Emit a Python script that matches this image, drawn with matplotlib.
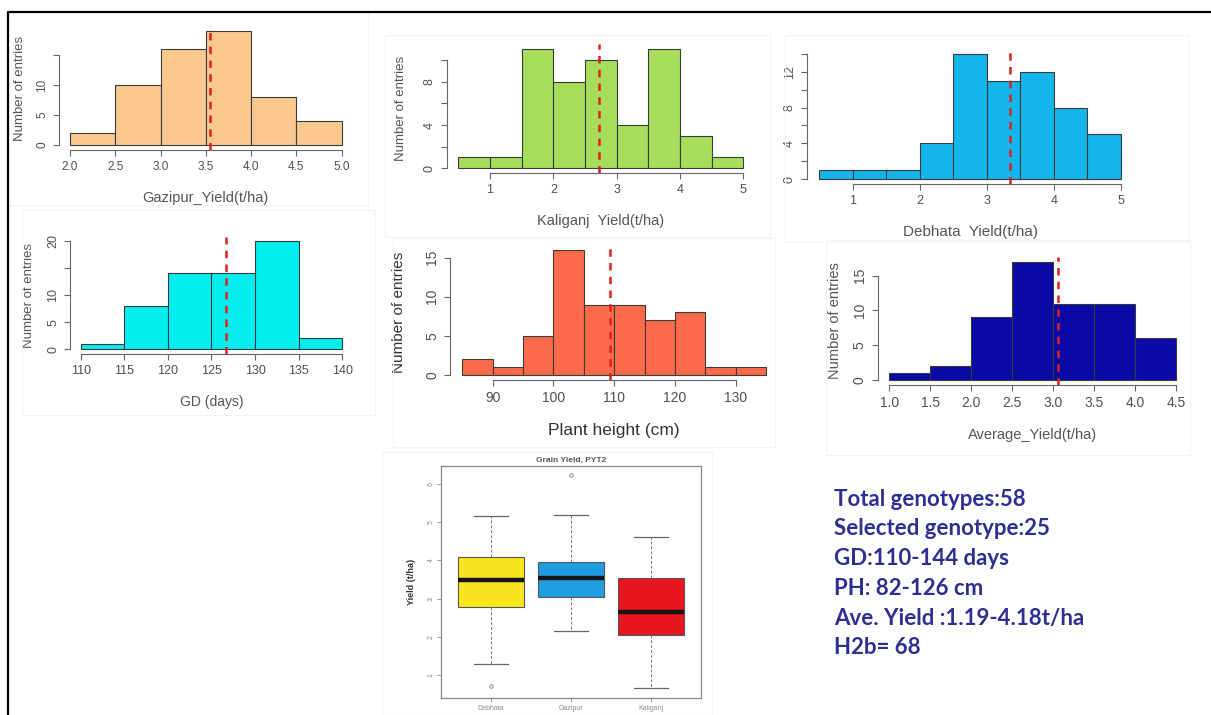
import numpy as np
import matplotlib
matplotlib.use('Agg')
import matplotlib.pyplot as plt
from matplotlib.lines import Line2D
from matplotlib.patches import Rectangle

W, H = 1211, 715

# bin edges, counts and mean for each trait
gazipur_edges = [2.0, 2.5, 3.0, 3.5, 4.0, 4.5, 5.0]
gazipur_counts = [2, 10, 16, 19, 8, 4]
gazipur_mean = 3.55

kaliganj_edges = [0.5, 1.0, 1.5, 2.0, 2.5, 3.0, 3.5, 4.0, 4.5, 5.0]
kaliganj_counts = [1, 1, 11, 8, 10, 4, 11, 3, 1]
kaliganj_mean = 2.72

debhata_edges = [0.5, 1.0, 1.5, 2.0, 2.5, 3.0, 3.5, 4.0, 4.5, 5.0]
debhata_counts = [1, 1, 1, 4, 14, 11, 12, 8, 5]
debhata_mean = 3.35

gd_edges = [110, 115, 120, 125, 130, 135, 140]
gd_counts = [1, 8, 14, 14, 20, 2]
gd_mean = 126.7

ph_edges = [85, 90, 95, 100, 105, 110, 115, 120, 125, 130, 135]
ph_counts = [2, 1, 5, 16, 9, 9, 7, 8, 1, 1]
ph_mean = 109.3

avg_edges = [1.0, 1.5, 2.0, 2.5, 3.0, 3.5, 4.0, 4.5]
avg_counts = [1, 2, 9, 17, 11, 11, 6]
avg_mean = 3.06

# grain yield by location (box statistics)
box_sites = ['Debhata', 'Gazipur', 'Kaliganj']
box_q1 = [2.77, 3.05, 2.05]
box_med = [3.50, 3.55, 2.64]
box_q3 = [4.08, 3.97, 3.55]
box_lo = [1.28, 2.15, 0.65]
box_hi = [5.16, 5.18, 4.62]
box_out = [[0.71], [6.24], []]
box_colors = ['#F7E51E', '#1E9EE0', '#E8161E']

summary_lines = ['Total genotypes:58', 'Selected genotype:25', 'GD:110-144 days',
                 'PH: 82-126 cm', 'Ave. Yield :1.19-4.18t/ha', 'H2b= 68']

plt.rcParams['font.family'] = ['Liberation Sans', 'DejaVu Sans']

fig = plt.figure(figsize=(W / 100, H / 100), dpi=100)
fig.patch.set_facecolor('white')


def px_axes(xa, xb, ya, yb, xlim, ylim):
    # xa/xb/ya/yb are (value, pixel) pairs used to calibrate the axes box
    sx = (xb[1] - xa[1]) / (xb[0] - xa[0])
    left = xa[1] + (xlim[0] - xa[0]) * sx
    right = xa[1] + (xlim[1] - xa[0]) * sx
    sy = (ya[1] - yb[1]) / (yb[0] - ya[0])
    bottom = ya[1] - (ylim[0] - ya[0]) * sy
    top = ya[1] - (ylim[1] - ya[0]) * sy
    ax = fig.add_axes([left / W, 1 - bottom / H, (right - left) / W, (bottom - top) / H])
    ax.set_xlim(xlim)
    ax.set_ylim(ylim)
    ax.patch.set_alpha(0)
    return ax


def r_hist(ax, edges, counts, mean, color, xticks, xticklabels, yticks, ylabels,
           xlabel, tfs=8.5, xfs=11, yfs=10, xpad=13, ypad=9, lcol='#555555'):
    edges = np.array(edges, dtype=float)
    ax.bar(edges[:-1], counts, width=np.diff(edges), align='edge', color=color,
           edgecolor='#3a3a3a', linewidth=0.8)
    ax.axvline(mean, color='#E0201C', linestyle=(0, (3, 2.5)), linewidth=1.8)
    for s in ['top', 'right']:
        ax.spines[s].set_visible(False)
    for s in ['left', 'bottom']:
        ax.spines[s].set_color('#666666')
        ax.spines[s].set_linewidth(0.8)
    ax.spines['left'].set_bounds(yticks[0], yticks[-1])
    ax.spines['bottom'].set_bounds(xticks[0], xticks[-1])
    ax.set_xticks(xticks)
    ax.set_xticklabels(xticklabels)
    ax.set_yticks(yticks)
    ax.set_yticklabels(ylabels)
    ax.tick_params(length=4.5, width=0.8, color='#666666', labelcolor='#505050',
                   labelsize=tfs, pad=3.5)
    ax.tick_params(axis='y', labelrotation=90)
    for lab in ax.get_yticklabels():
        lab.set_va('center')
    ax.set_xlabel(xlabel, fontsize=xfs, color=lcol, labelpad=xpad)
    ax.set_ylabel('Number of entries', fontsize=yfs, color=lcol, labelpad=ypad)


# faint frames of the individual panels
for x0, y0, x1, y1 in [(8, 12, 368, 205), (385, 35, 770, 237), (785, 35, 1188, 242),
                       (22, 210, 375, 415), (393, 238, 775, 447), (826, 240, 1190, 455),
                       (382, 452, 712, 715)]:
    fig.patches.append(Rectangle((x0 / W, 1 - y1 / H), (x1 - x0) / W, (y1 - y0) / H,
                                 transform=fig.transFigure, fill=False,
                                 edgecolor='#F3F3F3', linewidth=0.8))

# Gazipur yield
ax1 = px_axes((2.0, 70), (5.0, 341.7), (0, 145), (10, 85), (1.88, 5.12), (-0.76, 19.76))
r_hist(ax1, gazipur_edges, gazipur_counts, gazipur_mean, '#FBC88F',
       [2.0, 2.5, 3.0, 3.5, 4.0, 4.5, 5.0],
       ['2.0', '2.5', '3.0', '3.5', '4.0', '4.5', '5.0'],
       [0, 5, 10, 15], ['0', '5', '10', ''], 'Gazipur_Yield(t/ha)',
       tfs=8.5, xfs=10.5, yfs=9.5, ypad=7)

# Kaliganj yield
ax2 = px_axes((1, 490), (5, 743.3), (0, 168.3), (8, 81.7), (0.32, 5.18), (-0.44, 11.44))
r_hist(ax2, kaliganj_edges, kaliganj_counts, kaliganj_mean, '#A6DE5C',
       [1, 2, 3, 4, 5], ['1', '2', '3', '4', '5'],
       [0, 2, 4, 6, 8, 10], ['0', '', '4', '', '8', ''], 'Kaliganj  Yield(t/ha)',
       tfs=9, xfs=10.5, yfs=9.5, ypad=12)

# Debhata yield
ax3 = px_axes((1, 852.7), (5, 1121), (0, 179.3), (12, 71.7), (0.32, 5.18), (-0.56, 14.56))
r_hist(ax3, debhata_edges, debhata_counts, debhata_mean, '#14B4EC',
       [1, 2, 3, 4, 5], ['1', '2', '3', '4', '5'],
       [0, 2, 4, 6, 8, 10, 12, 14], ['0', '', '4', '', '8', '', '12', ''],
       'Debhata  Yield(t/ha)', tfs=9, xfs=11, yfs=9.5)
ax3.set_ylabel('')

# growth duration
ax4 = px_axes((110, 80.7), (140, 342.3), (0, 349.3), (20, 241), (108.8, 141.2), (-0.8, 20.8))
r_hist(ax4, gd_edges, gd_counts, gd_mean, '#00EEEE',
       [110, 115, 120, 125, 130, 135, 140],
       ['110', '115', '120', '125', '130', '135', '140'],
       [0, 5, 10, 15, 20], ['0', '5', '10', '', '20'], 'GD (days)',
       tfs=9, xfs=10, yfs=9.5)

# plant height
ax5 = px_axes((90, 492.7), (130, 735.7), (0, 375), (15, 257.7), (83, 137), (-0.64, 16.64))
r_hist(ax5, ph_edges, ph_counts, ph_mean, '#FF6A4A',
       [90, 100, 110, 120, 130], ['90', '100', '110', '120', '130'],
       [0, 5, 10, 15], ['0', '5', '10', '15'], 'Plant height (cm)',
       tfs=10, xfs=12.5, yfs=11, lcol='#333333', ypad=14)

# average yield
ax6 = px_axes((1.0, 889.3), (4.5, 1176), (0, 380), (15, 275.7), (0.86, 4.64), (-0.68, 17.68))
r_hist(ax6, avg_edges, avg_counts, avg_mean, '#0A0AA8',
       [1.0, 1.5, 2.0, 2.5, 3.0, 3.5, 4.0, 4.5],
       ['1.0', '1.5', '2.0', '2.5', '3.0', '3.5', '4.0', '4.5'],
       [0, 5, 10, 15], ['0', '5', '10', '15'], 'Average_Yield(t/ha)',
       tfs=10, xfs=10.5, yfs=10.5, ypad=8)

# grain yield boxplot by location
axb = px_axes((1, 491), (3, 651), (1, 675), (6, 484), (0.38, 3.62), (0.39, 6.47))
stats = []
for i, site in enumerate(box_sites):
    stats.append(dict(label=site, med=box_med[i], q1=box_q1[i], q3=box_q3[i],
                      whislo=box_lo[i], whishi=box_hi[i], fliers=box_out[i]))
bp = axb.bxp(stats, positions=[1, 2, 3], widths=0.83, patch_artist=True,
             boxprops=dict(edgecolor='#555555', linewidth=0.8),
             medianprops=dict(color='#151515', linewidth=3.2),
             whiskerprops=dict(color='#777777', linewidth=0.7, linestyle=(0, (3, 2))),
             capprops=dict(color='#666666', linewidth=0.9),
             flierprops=dict(marker='o', markersize=2.5, markerfacecolor='none',
                             markeredgecolor='#777777', markeredgewidth=0.6))
for patch, c in zip(bp['boxes'], box_colors):
    patch.set_facecolor(c)
for s in axb.spines.values():
    s.set_color('#888888')
    s.set_linewidth(0.9)
axb.set_yticks([1, 2, 3, 4, 5, 6])
axb.tick_params(length=3, width=0.6, color='#888888', labelcolor='#888888',
                labelsize=5, pad=2)
axb.tick_params(axis='y', labelrotation=90)
for lab in axb.get_yticklabels():
    lab.set_va('center')
axb.set_title('Grain Yield, PYT2', fontsize=6, fontweight='bold', color='#555555', pad=3)
axb.set_ylabel('Yield (t/ha)', fontsize=6.5, fontweight='bold', color='#333333', labelpad=8)

# summary of the trial
for i, line in enumerate(summary_lines):
    fig.text(834 / W, 1 - (499 + i * 29.8) / H, line, fontsize=16, fontweight='bold',
             color='#2E2F93', family=['Lato', 'DejaVu Sans'], ha='left', va='center')

# outer frame (top and left edges)
fig.add_artist(Line2D([8 / W, 8 / W, 1.0], [0.0, 1 - 12 / H, 1 - 12 / H],
                      transform=fig.transFigure, color='black', linewidth=1.6))

fig.savefig('out.png', dpi=100, facecolor='white')
